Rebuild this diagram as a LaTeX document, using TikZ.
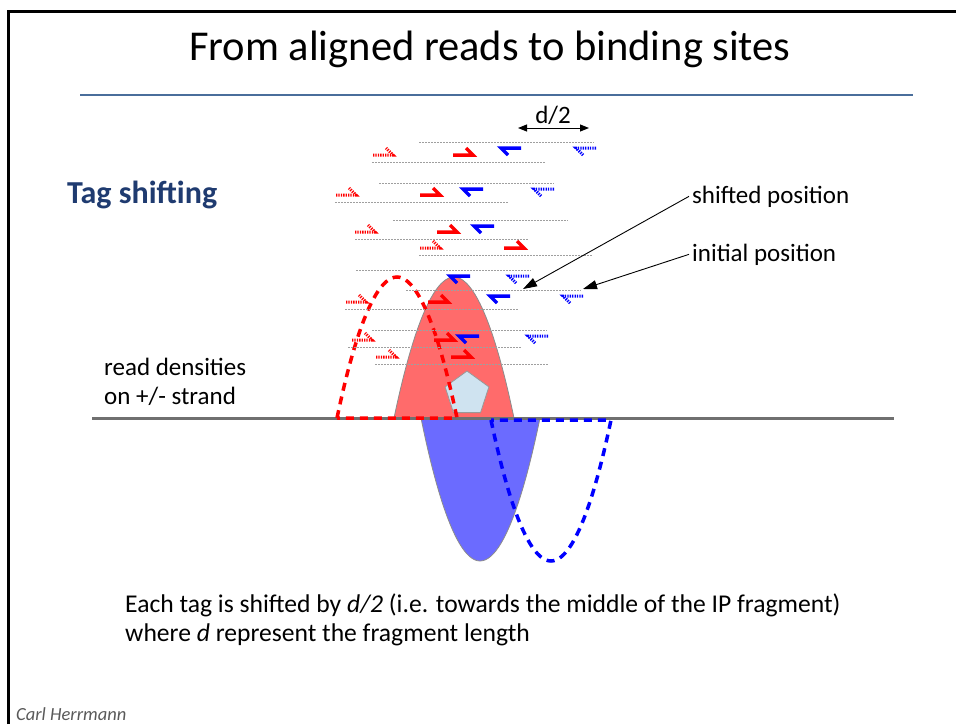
\documentclass[tikz,border=0pt]{standalone}
\usepackage{fontspec}
\setmainfont{Carlito}
\usetikzlibrary{arrows.meta,shapes.geometric}
\definecolor{rulecol}{HTML}{4A6E9B}
\definecolor{navy}{HTML}{1F3B70}
\definecolor{redfill}{HTML}{FF6B6B}
\definecolor{bluefill}{HTML}{6B6BFF}
\definecolor{sitefill}{HTML}{CFE3F0}
\definecolor{strandgray}{HTML}{707070}
\begin{document}
\begin{tikzpicture}[x=1pt,y=-1pt,
  txt/.style={font=\fontsize{25}{29}\selectfont, inner sep=3pt},
  readline/.style={draw=gray!75, line width=0.8pt, dash pattern=on 1.5pt off 1.5pt},
  fwdtag/.pic={\draw[pic actions] (-10,0) -- (10,0) -- (3,-7);},
  revtag/.pic={\draw[pic actions] (10,0) -- (-10,0) -- (-3,7);},
  shiftag/.style={line width=3.5pt},
  inittag/.style={line width=3pt, dash pattern=on 1.3pt off 1.1pt},
  densdash/.style={line width=3.5pt, dash pattern=on 8pt off 6pt},
  pointer/.style={-{Triangle[length=14pt,width=9pt]}, line width=0.9pt},
  sitebox/.style={regular polygon, regular polygon sides=5, minimum size=46pt, inner sep=0pt, fill=sitefill, draw=gray!80, line width=0.8pt}]
  \useasboundingbox (0,0) rectangle (956,724);
  \draw[line width=3pt] (8.5,724) -- (8.5,11.5) -- (956,11.5);
  \node[font=\fontsize{42.5}{48}\selectfont, anchor=base] (title) at (490,60) {From aligned reads to binding sites};
  \draw[rulecol, line width=2pt] (80,95) -- (913,95);
  \node[font=\fontsize{32}{36}\selectfont\bfseries, text=navy, anchor=base west, inner sep=0pt] (tagshift) at (67,203) {Tag shifting};
%
  \fill[redfill, draw=gray!90, line width=0.8pt] (394,418) parabola bend (454,277) (514,418) -- cycle;
  \fill[bluefill, draw=gray!90, line width=0.8pt] (421,418) parabola bend (480,561) (540,418) -- cycle;
  \node[sitebox] (site) at (467,394) {};
  \draw[strandgray, line width=3pt] (92,418) -- (894,418);
  \draw[red, densdash] (337,418) parabola bend (397,277) (457,418) -- cycle;
  \draw[blue, densdash] (491,420) parabola bend (551,561) (611,420) -- cycle;
%
  \draw[readline] (372,162) -- ++(174,0); \pic[red,inittag] at (383,155) {fwdtag}; \pic[red,shiftag] at (463,155) {fwdtag};
  \draw[readline] (335,202) -- ++(174,0); \pic[red,inittag] at (346,195) {fwdtag}; \pic[red,shiftag] at (430,195) {fwdtag};
  \draw[readline] (355,239) -- ++(174,0); \pic[red,inittag] at (365,232) {fwdtag}; \pic[red,shiftag] at (447,232) {fwdtag};
  \draw[readline] (419,255) -- ++(174,0); \pic[red,inittag] at (430,248) {fwdtag}; \pic[red,shiftag] at (514,248) {fwdtag};
  \draw[readline] (345,309) -- ++(174,0); \pic[red,inittag] at (356,302) {fwdtag}; \pic[red,shiftag] at (438,302) {fwdtag};
  \draw[readline] (348,347) -- ++(174,0); \pic[red,inittag] at (362,340) {fwdtag}; \pic[red,shiftag] at (444,340) {fwdtag};
  \draw[readline] (375,364) -- ++(174,0); \pic[red,inittag] at (386,357) {fwdtag}; \pic[red,shiftag] at (461,357) {fwdtag};
%
  \draw[readline] (419,142) -- ++(175,0); \pic[blue,shiftag] at (511,148) {revtag}; \pic[blue,inittag] at (586,148) {revtag};
  \draw[readline] (379,183) -- ++(175,0); \pic[blue,shiftag] at (473,189) {revtag}; \pic[blue,inittag] at (544,189) {revtag};
  \draw[readline] (393,220) -- ++(175,0); \pic[blue,shiftag] at (484,226) {revtag};
  \draw[readline] (356,270) -- ++(175,0); \pic[blue,shiftag] at (460,276) {revtag}; \pic[blue,inittag] at (519,276) {revtag};
  \draw[readline] (406,290) -- ++(175,0); \pic[blue,shiftag] at (500,296) {revtag}; \pic[blue,inittag] at (573,296) {revtag};
  \draw[readline] (372,330) -- ++(175,0); \pic[blue,shiftag] at (469,336) {revtag}; \pic[blue,inittag] at (538,336) {revtag};
%
  \coordinate (dl) at (518,128); \coordinate (dr) at (589,128);
  \draw[{Triangle[length=9pt,width=7pt]}-{Triangle[length=9pt,width=7pt]}, line width=1pt] (dl) -- (dr);
  \node[txt, anchor=base] (dhalf) at (553,123) {d/2};
%
  \node[txt, anchor=base west] (shifted) at (689,203) {shifted position};
  \node[txt, anchor=base west] (initial) at (689,261) {initial position};
  \coordinate (shiftedtip) at (523,289); \coordinate (initialtip) at (583,289);
  \draw[pointer] (shifted.west) -- (shiftedtip);
  \draw[pointer] (initial.west) -- (initialtip);
%
  \node[txt, anchor=base west] (dens) at (101,375) {read densities};
  \node[txt, anchor=base west] (strand) at (101,404) {on +/- strand};
  \node[font=\fontsize{25.6}{30}\selectfont, anchor=base west, inner sep=0pt] (note1) at (125,612) {Each tag is shifted by \textit{d/2} (i.e. towards the middle of the IP fragment)};
  \node[font=\fontsize{25.6}{30}\selectfont, anchor=base west, inner sep=0pt] (note2) at (125,641) {where \textit{d} represent the fragment length};
  \node[font=\fontsize{18.5}{22}\selectfont\itshape, text=black!65, anchor=base west, inner sep=0pt] (author) at (16,720) {Carl Herrmann};
\end{tikzpicture}
\end{document}
